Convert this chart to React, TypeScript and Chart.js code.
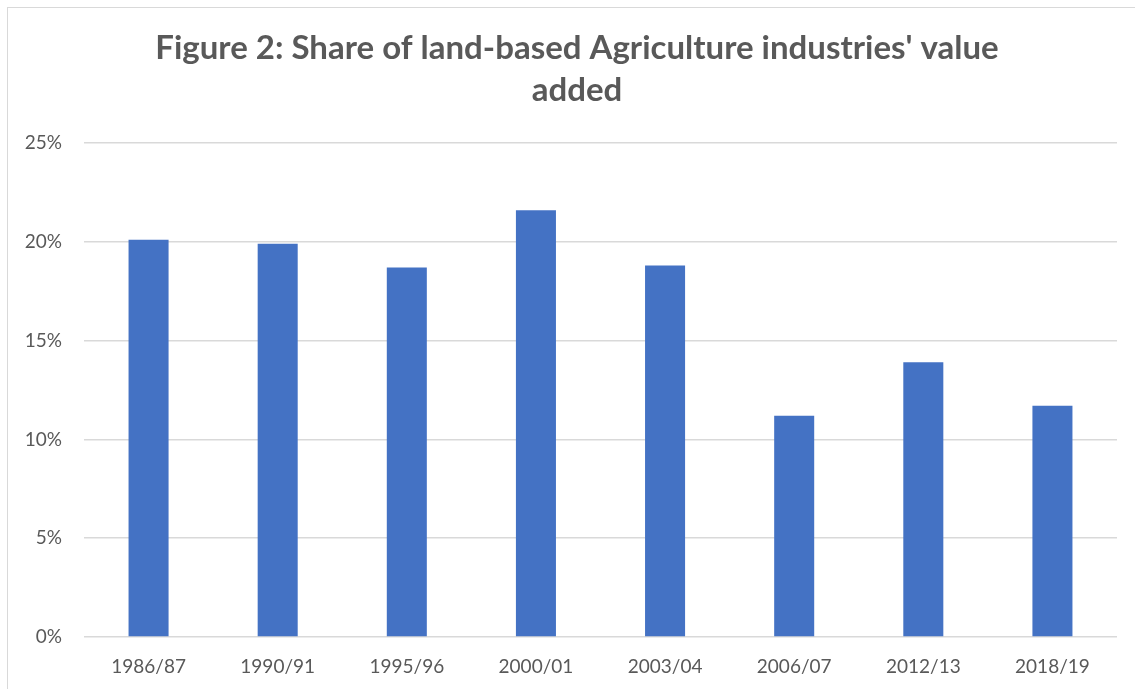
import React, { useEffect, useRef } from "react";
import { Chart, registerables } from "chart.js";

Chart.register(...registerables);

const categories = ["1986/87", "1990/91", "1995/96", "2000/01", "2003/04", "2006/07", "2012/13", "2018/19"];
const shareValues = [20.1, 19.9, 18.7, 21.6, 18.8, 11.2, 13.9, 11.7];
const yTicks = [0, 5, 10, 15, 20, 25];
const titleLines = ["Figure 2: Share of land-based Agriculture industries' value", "added"];

const FONT = "Lato, 'Open Sans', sans-serif";
const TEXT = "#595959";

const titlePlugin = {
  id: "frameTitle",
  afterDraw(chart: any) {
    const ctx = chart.ctx;
    ctx.save();
    ctx.fillStyle = TEXT;
    ctx.font = `bold 33px ${FONT}`;
    ctx.textAlign = "center";
    ctx.textBaseline = "alphabetic";
    const baselines = [59, 101];
    titleLines.forEach((line, i) => ctx.fillText(line, 577, baselines[i]));
    ctx.restore();
  },
};

export default function App() {
  const ref = useRef<HTMLCanvasElement | null>(null);
  useEffect(() => {
    if (!ref.current) return;
    const chart = new Chart(ref.current, {
      type: "bar",
      data: {
        labels: categories,
        datasets: [
          {
            label: "Share",
            data: shareValues,
            backgroundColor: "#4472C4",
            borderWidth: 0,
            barPercentage: 0.31,
            categoryPercentage: 1,
          },
        ],
      },
      plugins: [titlePlugin],
      options: {
        responsive: false,
        animation: false,
        layout: { padding: { left: 0, right: 18, top: 143, bottom: 0 } },
        plugins: {
          legend: { display: false },
          tooltip: { enabled: false },
          title: { display: false },
        },
        scales: {
          x: {
            grid: { display: false, drawTicks: false },
            border: { display: false },
            ticks: { color: TEXT, font: { family: FONT, size: 19 }, padding: 18, maxRotation: 0 },
            afterFit: (s: any) => {
              s.height = 52;
            },
          },
          y: {
            min: 0,
            max: 25,
            afterBuildTicks: (s: any) => {
              s.ticks = yTicks.map((v) => ({ value: v }));
            },
            grid: { color: "#d9d9d9", lineWidth: 1.5, drawTicks: false },
            border: { display: false },
            ticks: {
              color: TEXT,
              font: { family: FONT, size: 19 },
              padding: 22,
              callback: (v: any) => v + "%",
            },
            afterFit: (s: any) => {
              s.width = 84;
            },
          },
        },
      },
    });
    return () => chart.destroy();
  }, []);
  return (
    <div>
      <canvas
        ref={ref}
        width={1135}
        height={689}
        style={{ position: "fixed", left: 0, top: 0, width: 1135, height: 689, background: "#fff" }}
      />
      <div
        style={{
          position: "fixed",
          left: 7,
          top: 7,
          width: 2000,
          height: 2000,
          borderLeft: "1.5px solid #d9d9d9",
          borderTop: "1.5px solid #d9d9d9",
          pointerEvents: "none",
        }}
      />
    </div>
  );
}
